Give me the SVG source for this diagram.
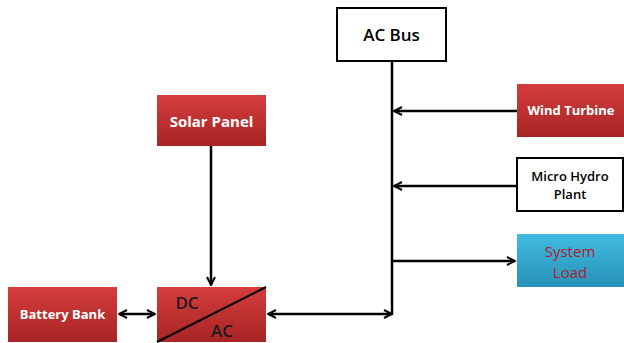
<svg xmlns="http://www.w3.org/2000/svg" width="624" height="343" viewBox="0 0 624 343">
<defs>
<linearGradient id="red" x1="0" y1="0" x2="0" y2="1"><stop offset="0" stop-color="#d43d3d"/><stop offset="1" stop-color="#a82424"/></linearGradient>
<linearGradient id="blue" x1="0" y1="0" x2="0" y2="1"><stop offset="0" stop-color="#40bce0"/><stop offset="1" stop-color="#2891b6"/></linearGradient>
<marker id="ah" viewBox="0 0 10 10" refX="9" refY="5" markerWidth="10" markerHeight="10" markerUnits="userSpaceOnUse" orient="auto-start-reverse"><path d="M1,1 L9,5 L1,9" fill="none" stroke="#000" stroke-width="2"/></marker>
<style>
.red{fill:url(#red)}
.wbox{fill:#fff;stroke:#000;stroke-width:2}
.wt{font-family:"Open Sans","Liberation Sans",sans-serif;font-weight:bold;fill:#fff;text-anchor:middle}
.bt{font-family:"Open Sans","Liberation Sans",sans-serif;fill:#000;text-anchor:middle}
.ln{stroke:#000;stroke-width:2.5;fill:none}
</style>
</defs>
<g id="connectors">
<line class="ln" x1="392" y1="62" x2="392" y2="315"/>
<line class="ln" x1="211" y1="146" x2="211" y2="285" marker-end="url(#ah)"/>
<line class="ln" x1="119" y1="314" x2="155" y2="314" marker-start="url(#ah)" marker-end="url(#ah)"/>
<line class="ln" x1="268" y1="314" x2="392" y2="314" marker-start="url(#ah)" marker-end="url(#ah)"/>
<line class="ln" x1="517" y1="111" x2="394" y2="111" marker-end="url(#ah)"/>
<line class="ln" x1="517" y1="186" x2="394" y2="186" marker-end="url(#ah)"/>
<line class="ln" x1="392" y1="261" x2="515" y2="261" marker-end="url(#ah)"/>
</g>
<g id="ac-bus"><rect class="wbox" x="337" y="8" width="109" height="53"/><text class="bt" x="391.5" y="41" font-size="17" font-weight="600">AC Bus</text></g>
<g id="solar-panel"><rect class="red" x="157" y="95" width="109" height="51"/><text class="wt" x="211.5" y="127" font-size="15">Solar Panel</text></g>
<g id="battery-bank"><rect class="red" x="8" y="287" width="109" height="55"/><text class="wt" x="62.5" y="319" font-size="13">Battery Bank</text></g>
<g id="dc-ac"><rect class="red" x="157" y="287" width="109" height="55"/><line x1="157" y1="342" x2="266" y2="287" stroke="#000" stroke-width="2"/><text class="bt" x="187" y="309" font-size="17" font-weight="600" style="fill:#1a1a1a">DC</text><text class="bt" x="222" y="337" font-size="17" font-weight="600" style="fill:#1a1a1a">AC</text></g>
<g id="wind-turbine"><rect class="red" x="517" y="84" width="108" height="53"/><text class="wt" x="571" y="115" font-size="13">Wind Turbine</text></g>
<g id="micro-hydro"><rect class="wbox" x="517" y="158" width="106" height="53"/><text class="bt" x="570" y="181" font-size="13" font-weight="600">Micro Hydro</text><text class="bt" x="570" y="199" font-size="13" font-weight="600">Plant</text></g>
<g id="system-load"><rect x="517" y="234" width="108" height="53" fill="url(#blue)"/><text class="bt" x="570" y="257" font-size="15" font-weight="500" style="fill:#b01c2e">System</text><text class="bt" x="570" y="278" font-size="15" font-weight="500" style="fill:#b01c2e">Load</text></g>
</svg>
